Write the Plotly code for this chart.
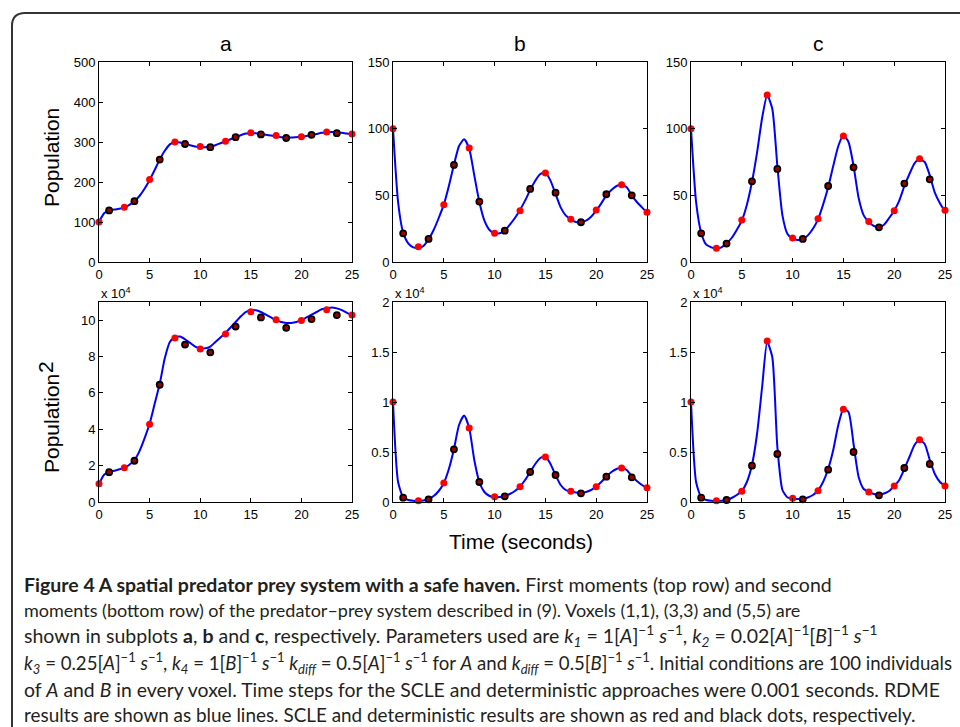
import plotly.graph_objects as go

# sample times
t_line = [i * 0.5 for i in range(51)]
t_red = [0, 2.5, 5, 7.5, 10, 12.5, 15, 17.5, 20, 22.5, 25]
t_black = [1, 3.5, 6, 8.5, 11, 13.5, 16, 18.5, 21, 23.5]

# first moments (top row)
a1_line = [100, 122, 129, 131, 133, 136, 143, 152, 165, 183, 205, 230, 256, 278, 294, 300,
           299, 296, 292, 289, 288, 287, 288, 292, 297, 302, 307, 312, 317, 321, 322, 322,
           320, 318, 316, 314, 312, 311, 311, 312, 313, 315, 317, 320, 323, 324, 325, 324,
           323, 321, 319]
a1_red = [100, 137, 206, 300, 289, 302, 323, 316, 313, 325, 320]
a1_black = [129, 152, 256, 295, 287, 312, 319, 310, 318, 322]

b1_line = [100, 45, 22, 14, 11, 10.5, 12, 17, 24, 33, 43, 57, 73, 87, 92, 85, 65, 45, 31, 24,
           21.5, 21.5, 23.5, 28, 33, 39, 46, 54, 61, 66, 67, 61, 51, 41, 35, 32, 30, 30, 31,
           34, 38.5, 44, 50, 54, 57, 58, 56, 50, 45, 41, 37]
b1_red = [100, 11.5, 43, 85.5, 21.5, 38.5, 66.8, 32, 39, 58, 37.3]
b1_black = [21.5, 17.3, 72.8, 45.3, 23.5, 54.8, 52, 29.8, 50.8, 50]

c1_line = [100, 45, 22, 13, 11, 10, 11, 14, 18, 24, 31, 43, 60, 82, 108, 125, 115, 72, 35, 21,
           17.5, 16.5, 17, 20, 25, 32, 43, 56, 72, 87, 95, 90, 72, 48, 35, 30, 27, 26, 28, 33,
           38.5, 46, 57, 66, 74, 77, 75, 65, 52, 44, 38]
c1_red = [100, 10.3, 31.5, 125.3, 18, 32.5, 94.5, 30.3, 38.5, 77.5, 38.8]
c1_black = [21.5, 13.8, 60.5, 69.8, 17.3, 57, 71, 26, 58.8, 62]

# second moments (bottom row), x 10^4
a2_line = [0.98, 1.5, 1.65, 1.72, 1.8, 1.88, 2.05, 2.3, 2.8, 3.5, 4.3, 5.4, 6.5, 7.9, 8.8,
           9.05, 9.1, 8.95, 8.75, 8.55, 8.45, 8.45, 8.55, 8.8, 9.05, 9.3, 9.6, 9.9, 10.2,
           10.45, 10.55, 10.55, 10.45, 10.3, 10.15, 10.0, 9.9, 9.85, 9.85, 9.9, 10.0, 10.15,
           10.3, 10.45, 10.6, 10.65, 10.7, 10.65, 10.55, 10.4, 10.28]
a2_red = [1.0, 1.88, 4.27, 9.02, 8.42, 9.24, 10.46, 10.02, 9.98, 10.57, 10.28]
a2_black = [1.64, 2.27, 6.45, 8.66, 8.23, 9.65, 10.15, 9.58, 10.06, 10.28]

b2_line = [1.0, 0.2, 0.05, 0.02, 0.012, 0.01, 0.015, 0.03, 0.06, 0.11, 0.19, 0.33, 0.53,
           0.77, 0.865, 0.74, 0.42, 0.2, 0.1, 0.06, 0.05, 0.05, 0.06, 0.08, 0.11, 0.155,
           0.22, 0.3, 0.38, 0.44, 0.455, 0.38, 0.27, 0.17, 0.12, 0.105, 0.095, 0.09, 0.1,
           0.12, 0.155, 0.2, 0.255, 0.3, 0.33, 0.345, 0.32, 0.26, 0.21, 0.17, 0.14]
b2_red = [1.0, 0.013, 0.19, 0.74, 0.053, 0.153, 0.45, 0.107, 0.153, 0.34, 0.143]
b2_black = [0.043, 0.027, 0.527, 0.2, 0.057, 0.3, 0.27, 0.087, 0.253, 0.247]

c2_line = [1.0, 0.2, 0.05, 0.02, 0.012, 0.01, 0.012, 0.02, 0.04, 0.07, 0.11, 0.2, 0.37,
           0.68, 1.15, 1.6, 1.45, 0.55, 0.12, 0.045, 0.035, 0.03, 0.03, 0.045, 0.07, 0.115,
           0.2, 0.33, 0.52, 0.77, 0.93, 0.9, 0.58, 0.25, 0.13, 0.1, 0.08, 0.075, 0.085, 0.11,
           0.16, 0.22, 0.33, 0.45, 0.57, 0.62, 0.58, 0.42, 0.28, 0.2, 0.16]
c2_red = [1.0, 0.013, 0.107, 1.61, 0.037, 0.113, 0.927, 0.1, 0.16, 0.623, 0.16]
c2_black = [0.043, 0.02, 0.363, 0.48, 0.027, 0.323, 0.5, 0.067, 0.34, 0.38]

panels = [
    (a1_line, a1_red, a1_black, [0, 500], [0, 100, 200, 300, 400, 500], None),
    (b1_line, b1_red, b1_black, [0, 150], [0, 50, 100, 150], None),
    (c1_line, c1_red, c1_black, [0, 150], [0, 50, 100, 150], None),
    (a2_line, a2_red, a2_black, [0, 11], [0, 2, 4, 6, 8, 10], None),
    (b2_line, b2_red, b2_black, [0, 2], [0, 0.5, 1, 1.5, 2], ["0", "0.5", "1", "1.5", "2"]),
    (c2_line, c2_red, c2_black, [0, 2], [0, 0.5, 1, 1.5, 2], ["0", "0.5", "1", "1.5", "2"]),
]
col_titles = ["a", "b", "c"]

W, H = 960, 727
px = lambda v: v / W
py = lambda v: 1 - v / H

col_x = [(99, 352), (393, 647), (691, 945)]
row_y = [(62, 262), (302, 502)]

AXFONT = dict(family="Liberation Sans, Arial, sans-serif", size=13, color="black")

fig = go.Figure()
layout = {}
for i, (yl, yr, yb, yrange, yticks, ytext) in enumerate(panels):
    r, c = divmod(i, 3)
    n = i + 1
    xa = "x" if n == 1 else f"x{n}"
    ya = "y" if n == 1 else f"y{n}"
    fig.add_trace(go.Scatter(x=t_line, y=yl, mode="lines", xaxis=xa, yaxis=ya,
                             line=dict(color="#0000ff", width=2, shape="spline", smoothing=0.6),
                             showlegend=False))
    fig.add_trace(go.Scatter(x=t_red, y=yr, mode="markers", xaxis=xa, yaxis=ya,
                             marker=dict(color="#ff0000", size=7), cliponaxis=False,
                             showlegend=False))
    fig.add_trace(go.Scatter(x=t_black, y=yb, mode="markers", xaxis=xa, yaxis=ya,
                             marker=dict(color="#a00000", size=6, line=dict(color="black", width=1.8)),
                             cliponaxis=False, showlegend=False))
    common = dict(showline=True, linecolor="black", linewidth=1, mirror="ticks",
                  ticks="inside", ticklen=4, tickcolor="black", showgrid=False,
                  zeroline=False, tickfont=AXFONT, automargin=False)
    layout["xaxis" if n == 1 else f"xaxis{n}"] = dict(
        domain=[px(col_x[c][0]), px(col_x[c][1])], range=[0, 25],
        tickvals=[0, 5, 10, 15, 20, 25], anchor=ya, **common)
    yax = dict(domain=[py(row_y[r][1]), py(row_y[r][0])], range=yrange,
               tickvals=yticks, anchor=xa, **common)
    if ytext:
        yax["ticktext"] = ytext
    layout["yaxis" if n == 1 else f"yaxis{n}"] = yax

fig.update_layout(**layout)

ann = []
TFONT = dict(family="Liberation Sans, Arial, sans-serif", size=21, color="black")


def label(x, y, text, angle=0, font=TFONT):
    return dict(x=px(x), y=py(y), text=text, textangle=angle, showarrow=False,
                xanchor="center", yanchor="middle", font=font, xref="paper", yref="paper")


for c, lab in enumerate(col_titles):
    ann.append(label((col_x[c][0] + col_x[c][1]) / 2, 43, lab))
for c in range(3):
    ann.append(dict(x=px(col_x[c][0]), y=py(row_y[1][0] + 1), text="x 10<sup>4</sup>",
                    showarrow=False, xanchor="left", yanchor="bottom",
                    font=dict(family="Liberation Sans, Arial", size=13, color="black"),
                    xref="paper", yref="paper"))
ann.append(label(51, 158, "Population", -90))
ann.append(label(51, 424, "Population", -90))
ann.append(label(45, 367, "2", -90))
ann.append(label(521, 541, "Time (seconds)"))

inv = "<sup>\u22121</sup>"
caption = [
    "<b>Figure 4 A spatial predator prey system with a safe haven.</b> First moments (top row) and second",
    "moments (bottom row) of the predator\u2013prey system described in (9). Voxels (1,1), (3,3) and (5,5) are",
    "shown in subplots <b>a</b>, <b>b</b> and <b>c</b>, respectively. Parameters used are "
    f"<i>k<sub>1</sub></i> = 1[<i>A</i>]{inv} <i>s</i>{inv}, <i>k<sub>2</sub></i> = 0.02[<i>A</i>]{inv}[<i>B</i>]{inv} <i>s</i>{inv}",
    f"<i>k<sub>3</sub></i> = 0.25[<i>A</i>]{inv} <i>s</i>{inv}, <i>k<sub>4</sub></i> = 1[<i>B</i>]{inv} <i>s</i>{inv} "
    f"<i>k<sub>diff</sub></i> = 0.5[<i>A</i>]{inv} <i>s</i>{inv} for <i>A</i> and "
    f"<i>k<sub>diff</sub></i> = 0.5[<i>B</i>]{inv} <i>s</i>{inv}. Initial conditions are 100 individuals",
    "of <i>A</i> and <i>B</i> in every voxel. Time steps for the SCLE and deterministic approaches were 0.001 seconds. RDME",
    "results are shown as blue lines. SCLE and deterministic results are shown as red and black dots, respectively.",
]
cap_y = [584, 610, 636, 663, 689, 714]
cap_size = [19.5, 18, 19.5, 18.6, 19.4, 18.9]
for line, yy, fs in zip(caption, cap_y, cap_size):
    ann.append(dict(x=px(22), y=py(yy), text=line, showarrow=False, xanchor="left",
                    yanchor="middle", xref="paper", yref="paper",
                    font=dict(family="Lato, sans-serif", size=fs, color="#231f20")))

# rounded frame around the figure
frame = (f"M {px(12)},{py(760)} L {px(12)},{py(26)} Q {px(12)},{py(13)} {px(25)},{py(13)} "
         f"L {px(980)},{py(13)}")

fig.update_layout(
    annotations=ann,
    shapes=[dict(type="path", path=frame, xref="paper", yref="paper",
                 line=dict(color="#333333", width=2))],
    width=W, height=H, margin=dict(l=0, r=0, t=0, b=0, autoexpand=False),
    paper_bgcolor="white", plot_bgcolor="white",
)

fig.write_html("out.html", config={"displayModeBar": False},
               post_script="document.body.style.margin='0';document.body.style.overflow='hidden';")
